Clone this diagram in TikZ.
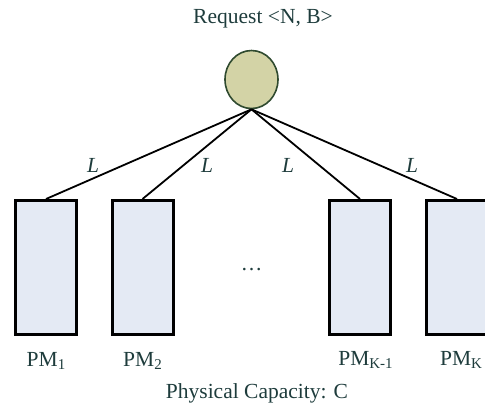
\documentclass[tikz,border=0pt]{standalone}
\usepackage{fontspec}
\setmainfont{Liberation Serif}
\usetikzlibrary{shapes.geometric}
\definecolor{txtcol}{HTML}{1E3C3C}
\definecolor{pmfill}{HTML}{E4EAF4}
\definecolor{reqfill}{HTML}{D3D3A6}
\definecolor{reqdraw}{HTML}{2F4A2F}
\newcommand{\pmsub}[1]{\raisebox{-3pt}{\fontsize{15}{15}\selectfont #1}}
\tikzset{
  pmbox/.style={draw=black, line width=3pt, fill=pmfill, minimum width=61pt, minimum height=134pt, inner sep=0pt},
  req/.style={ellipse, draw=reqdraw, line width=1.6pt, fill=reqfill, minimum width=53pt, minimum height=58pt, inner sep=0pt},
  link/.style={draw=black, line width=1.8pt},
  lbl/.style={text=txtcol, font=\fontsize{21.5}{24}\selectfont, inner sep=0pt, anchor=base},
  llbl/.style={text=txtcol, font=\fontsize{21.5}{24}\selectfont\itshape, inner sep=0pt}
}
\begin{document}
\begin{tikzpicture}[x=1pt,y=-1pt]
\useasboundingbox (0,0) rectangle (485,408);
\begin{scope}
\clip (0,0) rectangle (485,408);
\node[req] (r) at (251.5,79.5) {};
\node[pmbox] (p1) at (46,267.5) {};
\node[pmbox] (p2) at (142.5,267.5) {};
\node[pmbox] (p3) at (360,267.5) {};
\node[pmbox] (p4) at (457,267.5) {};
\draw[link] (r.south) -- (p1.north);
\draw[link] (r.south) -- (p2.north);
\draw[link] (r.south) -- (p3.north);
\draw[link] (r.south) -- (p4.north);
\end{scope}
\node[lbl] (title) at (263,23) {Request <N, B>};
\node[llbl] (l1) at (93,165) {L};
\node[llbl] (l2) at (207,165) {L};
\node[llbl] (l3) at (288,165) {L};
\node[llbl] (l4) at (412,165) {L};
\node[lbl] (dots) at (251.5,270) {…};
\node[lbl] (t1) at (46,366) {PM\pmsub{1}};
\node[lbl] (t2) at (142.5,366) {PM\pmsub{2}};
\node[lbl] (t3) at (365.5,365) {PM\pmsub{K-1}};
\node[lbl] (t4) at (461,365) {PM\pmsub{K}};
\node[lbl] (cap) at (257,398) {Physical Capacity: C};
\end{tikzpicture}
\end{document}
